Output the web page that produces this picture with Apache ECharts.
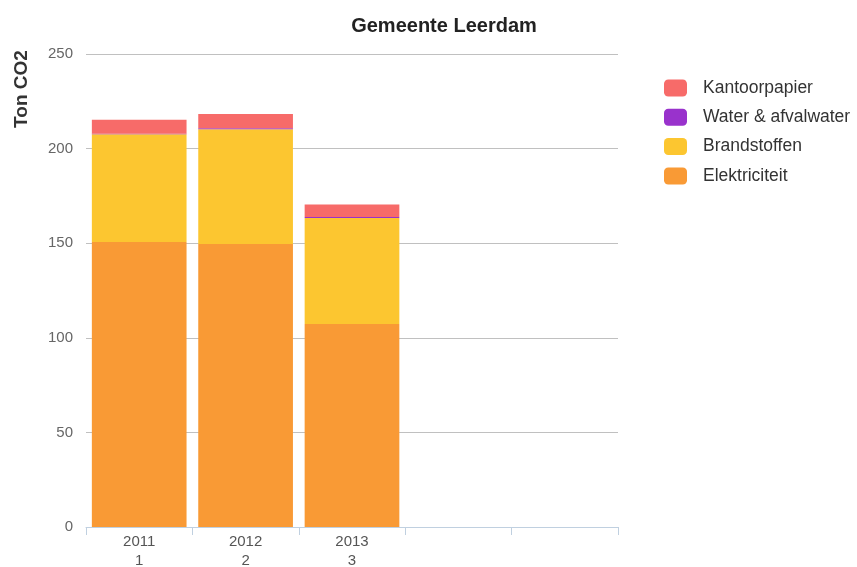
<!DOCTYPE html>
<html>
<head>
<meta charset="utf-8">
<script src="https://cdn.jsdelivr.net/npm/echarts@6/dist/echarts.min.js"></script>
<style>
  html, body { margin: 0; padding: 0; background: #fff; }
  #chart1 { width: 857px; height: 567px; }
</style>
</head>
<body>
<div id="chart1"></div>
<script>
/* Data */
const categories = ['2011\n1', '2012\n2', '2013\n3', '', ''];
const elektriciteit = [150.6, 149.6, 107.3];
const brandstoffen = [57.0, 60.6, 56.0];
const water = [0.3, 0.5, 0.5];
const kantoorpapier = [7.4, 7.6, 6.6];
const yTicks = { min: 0, max: 250, interval: 50 };

let chartDom = document.getElementById('chart1');
let myChart = echarts.init(chartDom);

const font = "'Liberation Sans', Arial, sans-serif";

function barSeries(name, data, color) {
    return {
        name: name,
        type: 'bar',
        stack: 'total',
        data: data,
        barCategoryGap: '11%',
        itemStyle: { color: color },
        emphasis: { disabled: true },
    };
}

let option = {
    animation: false,
    textStyle: { fontFamily: font },
    title: {
        text: 'Gemeente Leerdam',
        left: 439,
        top: 11,
        textAlign: 'center',
        textStyle: { fontSize: 20, fontWeight: 'bold', color: '#222', fontFamily: font },
    },
    legend: {
        orient: 'vertical',
        left: 659,
        top: 74,
        itemWidth: 23,
        itemHeight: 17,
        itemGap: 11.3,
        icon: 'roundRect',
        data: ['Kantoorpapier', 'Water & afvalwater', 'Brandstoffen', 'Elektriciteit'],
        textStyle: { fontSize: 17.5, lineHeight: 17, color: '#333', fontFamily: font, padding: [0, 0, 0, 11] },
    },
    graphic: [
        {
            type: 'text',
            x: 22,
            y: 89,
            rotation: Math.PI / 2,
            style: {
                text: 'Ton CO2',
                font: 'bold 19px ' + font,
                fill: '#333',
                textAlign: 'center',
                textVerticalAlign: 'middle',
            },
        },
    ],
    grid: { left: 86, right: 239, top: 54, bottom: 40, outerBoundsMode: 'none' },
    xAxis: {
        type: 'category',
        data: categories,
        axisLine: { lineStyle: { color: '#c0d0e0', width: 1 } },
        axisTick: { show: true, length: 8, lineStyle: { color: '#c0d0e0' } },
        axisLabel: { color: '#555', fontSize: 15, lineHeight: 19, margin: 5, fontFamily: font },
    },
    yAxis: {
        type: 'value',
        min: yTicks.min,
        max: yTicks.max,
        interval: yTicks.interval,
        axisLine: { show: false },
        axisTick: { show: false },
        axisLabel: { color: '#666', fontSize: 15, margin: 13, fontFamily: font },
        splitLine: { lineStyle: { color: '#c0c0c0', width: 1 } },
    },
    series: [
        barSeries('Elektriciteit', elektriciteit, '#f99a35'),
        barSeries('Brandstoffen', brandstoffen, '#fcc630'),
        barSeries('Water & afvalwater', water, '#9932cc'),
        barSeries('Kantoorpapier', kantoorpapier, '#f76b69'),
    ],
};

option && myChart.setOption(option);
</script>
</body>
</html>
